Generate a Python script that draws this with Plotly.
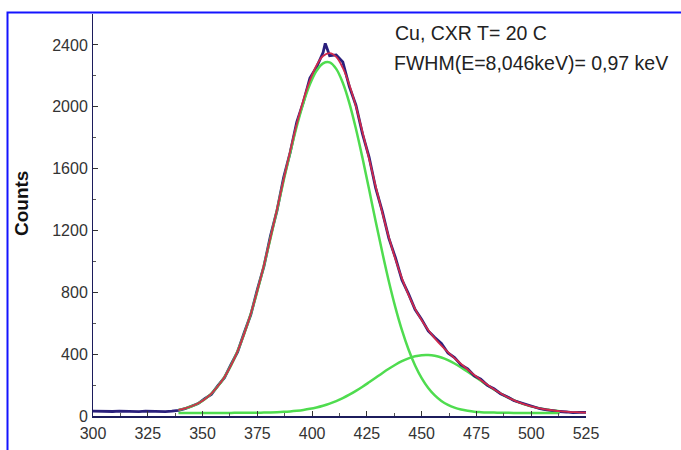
import plotly.graph_objects as go

# Measured spectrum (channel, counts)
meas_ch = [300, 303, 306, 309, 312, 315, 318, 321, 324, 327, 330, 333, 336, 339, 342, 345,
           348, 351, 354, 357, 360, 363, 366, 369, 372, 375, 378, 381, 384, 387, 390, 393,
           396, 399, 402, 405, 406, 408, 411, 414, 417, 420, 423, 426, 429, 432, 435, 438,
           441, 444, 447, 450, 453, 456, 459, 462, 465, 468, 471, 474, 477, 480, 483, 486,
           489, 492, 495, 498, 501, 504, 507, 510, 513, 516, 519, 522, 525]
meas_counts = [32, 30, 31, 29, 32, 30, 31, 28, 31, 29, 30, 28, 31, 36, 47, 66,
               80, 112, 140, 196, 248, 334, 415, 538, 655, 818, 968, 1165, 1330, 1542, 1705, 1900,
               2030, 2185, 2255, 2350, 2410, 2330, 2335, 2290, 2130, 2010, 1825, 1675, 1475, 1325, 1150, 1025,
               880, 790, 688, 625, 550, 508, 470, 408, 378, 330, 305, 260, 238, 198, 176, 144,
               125, 100, 87, 69, 60, 47, 40, 33, 29, 26, 22, 24, 23]

# Fit components
fit_ch = [339, 342, 345, 348, 351, 354, 357, 360, 363, 366, 369, 372, 375, 378, 381, 384,
          387, 390, 393, 396, 399, 402, 405, 408, 411, 414, 417, 420, 423, 426, 429, 432,
          435, 438, 441, 444, 447, 450, 453, 456, 459, 462, 465, 468, 471, 474, 477, 480,
          483, 486, 489, 492, 495, 498, 501, 504, 507, 510, 513]
peak1 = [39, 49, 63, 82, 109, 145, 192, 252, 327, 420, 531, 660, 808, 972, 1149, 1334,
         1522, 1704, 1874, 2024, 2145, 2232, 2281, 2287, 2245, 2155, 2024, 1858, 1668, 1466, 1259, 1060,
         872, 703, 555, 430, 327, 245, 181, 133, 97, 72, 54, 42, 34, 28, 25, 23,
         22, 21, 20.5, 20, 20, 20, 20, 20, 20, 20, 20]
peak2 = [20, 20, 20, 20, 20, 20, 20, 20.1, 20.2, 20.3, 20.6, 21, 21.4, 22.2, 23.2, 24.7,
         26.9, 29.9, 34, 39.4, 46.4, 55.3, 66.5, 80.2, 96.6, 115.8, 137.8, 162.5, 189.4, 218, 247.4, 277,
         305.4, 331.6, 354.5, 373, 386.3, 393.6, 394.6, 389.4, 378.1, 361.2, 339.7, 314.4, 286.6, 257.3, 227.7, 198.7,
         171.2, 145.7, 122.8, 102.7, 85.3, 70.7, 58.8, 49.1, 41.5, 35.6, 31.1]

sum_ch = [339, 342, 345, 348, 351, 354, 357, 360, 363, 366, 369, 372, 375, 378, 381, 384,
          387, 390, 393, 396, 399, 402, 405, 408, 411, 414, 417, 420, 423, 426, 429, 432,
          435, 438, 441, 444, 447, 450, 453, 456, 459, 462, 465, 468, 471, 474, 477, 480,
          483, 486, 489, 492, 495, 498, 501, 504, 507, 510, 513, 516, 519, 522, 525]
fit_sum = [39, 49, 63, 82, 109, 145, 192, 252, 327, 420, 531, 661, 810, 975, 1152, 1339,
           1529, 1714, 1888, 2043, 2171, 2267, 2328, 2347, 2322, 2251, 2142, 2001, 1837, 1664, 1486, 1317,
           1157, 1015, 890, 783, 693, 619, 556, 502, 455, 413, 374, 336, 301, 265, 233, 202,
           173, 147, 123, 103, 85, 71, 59, 49, 42, 36, 31, 28, 25, 24, 22]

x_ticks = [300, 325, 350, 375, 400, 425, 450, 475, 500, 525]
y_ticks = [0, 400, 800, 1200, 1600, 2000, 2400]

fig = go.Figure()
green = "#4fdc4f"
fig.add_trace(go.Scatter(x=fit_ch, y=peak2, mode="lines", line=dict(color=green, width=2.5, shape="spline"),
                         showlegend=False, hoverinfo="skip"))
fig.add_trace(go.Scatter(x=meas_ch, y=meas_counts, mode="lines", line=dict(color="#2a1f7c", width=2.8),
                         showlegend=False))
fig.add_trace(go.Scatter(x=fit_ch, y=peak1, mode="lines", line=dict(color=green, width=2.5, shape="spline"),
                         showlegend=False, hoverinfo="skip"))
fig.add_trace(go.Scatter(x=sum_ch, y=fit_sum, mode="lines", line=dict(color="#d02a4c", width=1.8, shape="spline"),
                         showlegend=False))

FONT = "Liberation Sans, Arial, sans-serif"
axis_font = dict(family=FONT, size=16, color="#333333")
fig.update_layout(
    width=681, height=450,
    margin=dict(l=93, r=95, t=14, b=34),
    paper_bgcolor="white", plot_bgcolor="white",
    xaxis=dict(range=[300, 525], tickvals=x_ticks, ticks="inside", ticklen=5, tickcolor="#333",
               showgrid=False, zeroline=False, showline=True, linecolor="#1c1c5c", linewidth=2,
               tickfont=axis_font, ticklabelstandoff=2, automargin=False,
               minor=dict(ticks="inside", ticklen=3, dtick=12.5, tickcolor="#555")),
    yaxis=dict(range=[0, 2600], tickvals=y_ticks, ticks="inside", ticklen=5, tickcolor="#333",
               showgrid=False, zeroline=False, showline=True, linecolor="#1c1c5c", linewidth=1,
               tickfont=axis_font, ticklabelstandoff=1, automargin=False,
               minor=dict(ticks="inside", ticklen=3, tickvals=[200, 600, 1000, 1400, 1800, 2200], tickcolor="#555")),
)

fig.add_annotation(text="<b>Counts</b>", xref="paper", yref="paper", x=(22 - 93) / 493, y=(416 - 204) / 402,
                   xanchor="center", yanchor="middle", textangle=-90, showarrow=False,
                   font=dict(family=FONT, size=19, color="#111"))
fig.add_annotation(text="Cu, CXR T= 20 C", xref="paper", yref="paper", x=(393 - 93) / 493, y=(416 - 33) / 402,
                   xanchor="left", yanchor="middle", showarrow=False,
                   font=dict(family=FONT, size=19.5, color="#222"))
fig.add_annotation(text="FWHM(E=8,046keV)= 0,97 keV", xref="paper", yref="paper", x=(392 - 93) / 493,
                   y=(416 - 63) / 402, xanchor="left", yanchor="middle", showarrow=False,
                   font=dict(family=FONT, size=19.5, color="#222"))

# blue frame around the figure
fig.add_shape(type="rect", xref="paper", yref="paper",
              x0=(7.5 - 93) / 493, x1=(700 - 93) / 493, y0=(416 - 470) / 402, y1=(416 - 12.5) / 402,
              line=dict(color="#1414ff", width=2), fillcolor="rgba(0,0,0,0)", layer="above")

fig.write_html("out.html", config={"displayModeBar": False},
               post_script="document.body.style.margin='0px';")
